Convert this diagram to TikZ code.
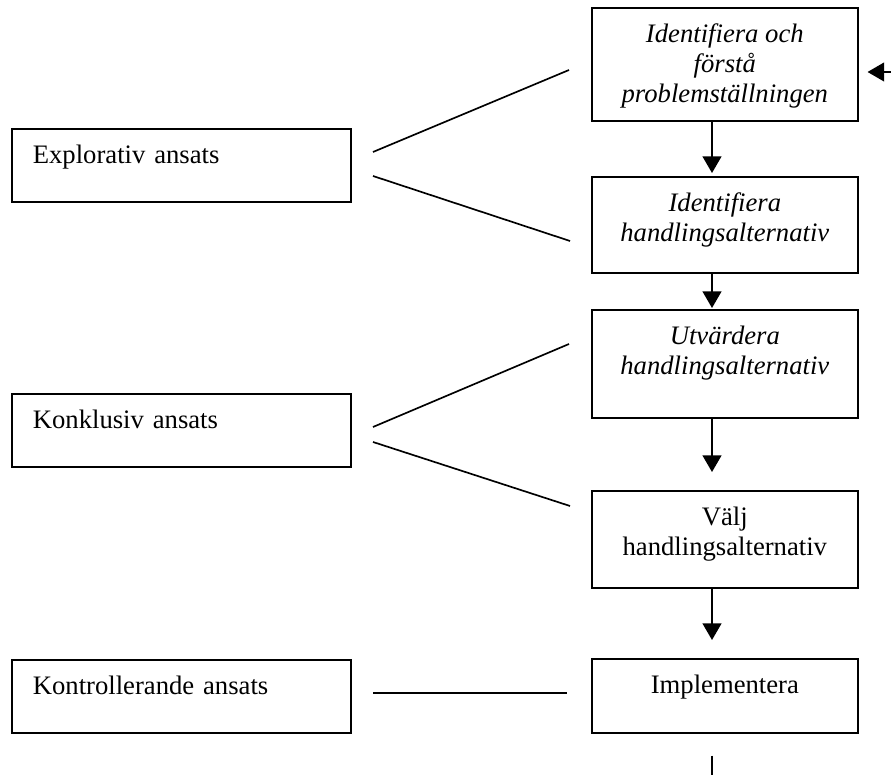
\documentclass[tikz,border=0pt]{standalone}
\usepackage{fontspec}
\setmainfont{Liberation Serif}
\usetikzlibrary{shapes,arrows.meta,positioning}

\begin{document}
\fontsize{12pt}{13.5pt}\selectfont
\begin{tikzpicture}[x=0.45pt, y=-0.45pt]
    \tikzset{
        n/.style          =   { rectangle
                              , draw=black
                              , line width=0.75pt
                              , anchor=north west
                              , inner ysep=0pt
                              , text height=15.75pt
        }
        , phase/.style    =   { n
                              , align=center
                              , minimum width=119.7pt
        }
        , approach/.style =   { n
                              , align=left
                              , inner xsep=9.45pt
                              , text width=133.65pt
                              , text depth=17.1pt
        }
        , arrow/.style    =   { line width=0.75pt
                              , -{Triangle[width=8.5pt, length=7.5pt]}
        }
        , link/.style     =   { line width=0.75pt
        }
    }
    \useasboundingbox (0,0) rectangle (891,775);

    % steps of the process (text height runs to the last baseline)
    \node(b1)[phase, font=\itshape, text height=42.75pt, text depth=8.1pt]   at (591,7)   {Identifiera och\\förstå\\problemställningen};
    \node(b2)[phase, font=\itshape, text height=29.25pt, text depth=13.95pt] at (591,176) {Identifiera\\handlingsalternativ};
    \node(b3)[phase, font=\itshape, text height=29.25pt, text depth=19.35pt] at (591,309) {Utvärdera\\handlingsalternativ};
    \node(b4)[phase, text height=29.25pt, text depth=14.4pt]                 at (591,490) {Välj\\handlingsalternativ};
    \node(b5)[phase, text depth=17.55pt]                                     at (591,658) {Implementera};

    % approaches
    \node(a1)[approach] at (11,128) {Explorativ ansats};
    \node(a2)[approach] at (11,393) {Konklusiv ansats};
    \node(a3)[approach] at (11,659) {Kontrollerande ansats};

    \coordinate(axis) at (712,0);
    \coordinate(ret)  at (891,72);
    \coordinate(tail) at (712,775);

    \coordinate(l1) at (373,152);  \coordinate(r1) at (569,70);
    \coordinate(l2) at (373,176);  \coordinate(r2) at (570,241);
    \coordinate(l3) at (373,427);  \coordinate(r3) at (569,344);
    \coordinate(l4) at (373,442);  \coordinate(r4) at (570,506);
    \coordinate(l5) at (373,693);  \coordinate(r5) at (567,693);

    \draw[arrow, shorten >=1.35pt] (b1.south -| axis) -- (b2.north -| axis);
    \draw[arrow, shorten >=0.45pt] (b2.south -| axis) -- (b3.north -| axis);
    \draw[arrow, shorten >=8.1pt]  (b3.south -| axis) -- (b4.north -| axis);
    \draw[arrow, shorten >=8.1pt]  (b4.south -| axis) -- (b5.north -| axis);
    \draw[arrow, shorten >=4pt]    (ret) -- (ret -| b1.east);
    \draw[link, shorten <=9.9pt]   (b5.south -| axis) -- (tail);

    \draw[link] (l1) -- (r1);
    \draw[link] (l2) -- (r2);
    \draw[link] (l3) -- (r3);
    \draw[link] (l4) -- (r4);
    \draw[link] (l5) -- (r5);
\end{tikzpicture}
\end{document}
